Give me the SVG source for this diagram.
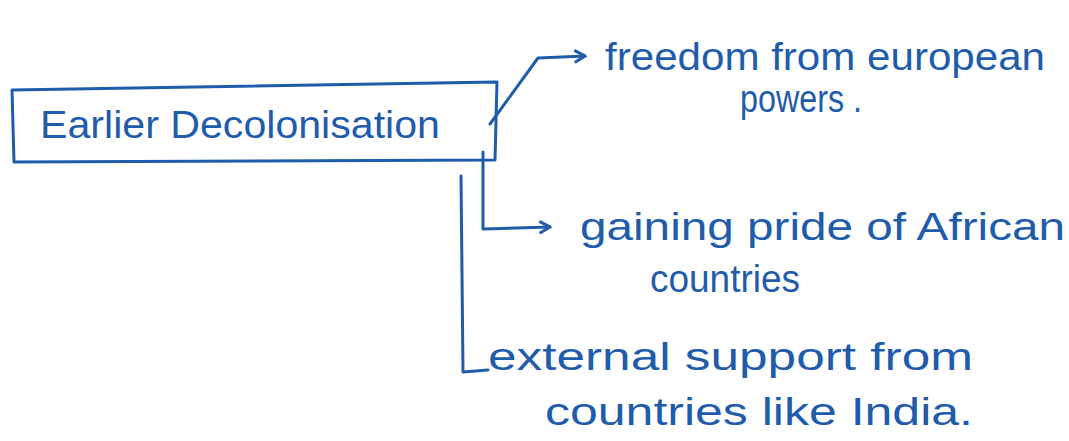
<svg xmlns="http://www.w3.org/2000/svg" width="1069" height="441" viewBox="0 0 1069 441">
<style>
  .ink{fill:none;stroke:#1f5cab;stroke-width:3;stroke-linecap:round;stroke-linejoin:round}
  .t{font-family:"Liberation Sans",Arial,sans-serif;font-size:38px;fill:#1f5cab}
</style>
<defs>
  <marker id="arr" viewBox="0 0 10 10" refX="9" refY="5" markerWidth="5" markerHeight="5" orient="auto" markerUnits="strokeWidth">
    <polyline points="2,1 9,5 2,9" fill="none" stroke="#1f5cab" stroke-width="2"/>
  </marker>
</defs>
<rect width="1069" height="441" fill="#ffffff"/>
<g id="node-root">
  <path class="ink" d="M12,90 L497,82 L495,160 L14,162 Z"/>
  <text class="t" x="40" y="138" textLength="400" lengthAdjust="spacingAndGlyphs">Earlier Decolonisation</text>
</g>
<g id="connectors">
  <polyline class="ink" points="490,124 538,58 585,56" marker-end="url(#arr)"/>
  <polyline class="ink" points="483,152 483,229 550,227" marker-end="url(#arr)"/>
  <polyline class="ink" points="461,176 463,372 488,370"/>
</g>
<g id="node-freedom">
  <text class="t" x="605" y="70" textLength="440" lengthAdjust="spacingAndGlyphs">freedom from european</text>
  <text class="t" x="740" y="112" textLength="122" lengthAdjust="spacingAndGlyphs">powers .</text>
</g>
<g id="node-pride">
  <text class="t" x="580" y="240" textLength="485" lengthAdjust="spacingAndGlyphs">gaining pride of African</text>
  <text class="t" x="650" y="292" textLength="150" lengthAdjust="spacingAndGlyphs">countries</text>
</g>
<g id="node-support">
  <text class="t" x="488" y="370" textLength="485" lengthAdjust="spacingAndGlyphs">external support from</text>
  <text class="t" x="545" y="425" textLength="428" lengthAdjust="spacingAndGlyphs">countries like India.</text>
</g>
</svg>
